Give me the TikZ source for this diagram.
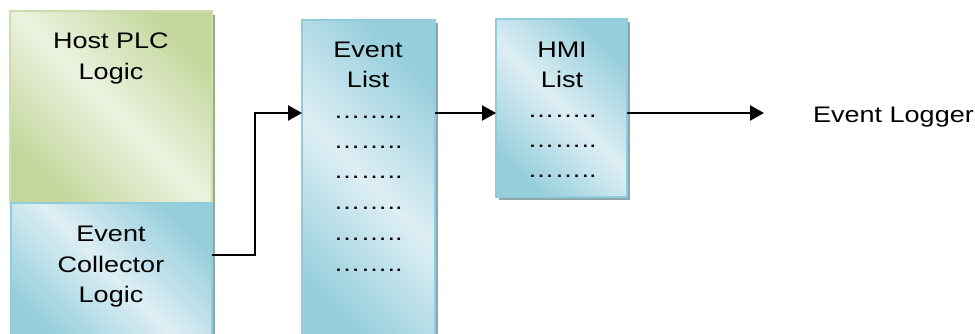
\documentclass[tikz,border=0pt]{standalone}
\usepackage{fontspec}
\setmainfont{Liberation Sans}
\usetikzlibrary{arrows.meta}
\definecolor{bdark}{HTML}{96CEDC}
\definecolor{blight}{HTML}{DDEEF4}
\definecolor{bborder}{HTML}{90CCDA}
\definecolor{bshadow}{HTML}{8EA7AF}
\definecolor{gdark}{HTML}{C4D69C}
\definecolor{glight}{HTML}{EBF2DF}
\definecolor{gborder}{HTML}{CCDDAE}
\definecolor{gshadow}{HTML}{9BAC88}
\newcommand{\sx}[1]{\scalebox{1.2}[1]{#1}}
\tikzset{
  bluebox/.style={draw=bborder, line width=1.6pt, shading=axis, top color=bdark, bottom color=bdark, middle color=blight, shading angle=-45},
  greenbox/.style={draw=gborder, line width=1.6pt, shading=axis, top color=gdark, bottom color=gdark, middle color=glight, shading angle=-45},
  shadowb/.style={fill=bshadow, draw=none},
  shadowg/.style={fill=gshadow, draw=none},
  lbl/.style={inner sep=0pt, anchor=base, font=\fontsize{22.5}{30}\selectfont},
  dots/.style={inner sep=0pt, font=\fontsize{22.5}{30}\selectfont},
  conn/.style={line width=2.4pt, -{Triangle[length=14pt,width=15pt]}},
}
\begin{document}
\begin{tikzpicture}[x=1pt,y=-1pt]
\useasboundingbox (0,0) rectangle (975,333);
% shadows
\fill[shadowg] (15,15) rectangle (215,206);
\fill[shadowb] (15,206) rectangle (215,340);
\fill[shadowb] (305,23) rectangle (438,340);
\fill[shadowb] (499,22) rectangle (630,200);
% boxes
\path[greenbox] (10,11) rectangle (212,203);
\path[bluebox] (11,203) rectangle (212,345);
\node[inner sep=0pt] (collE) at (212,255) {};
\path[bluebox] (302,20) rectangle (435,345);
\node[inner sep=0pt] (elW) at (302,113) {};
\node[inner sep=0pt] (elE) at (435,113) {};
\path[bluebox] (496,19) rectangle (627,197);
\node[inner sep=0pt] (hmiW) at (496,113) {};
\node[inner sep=0pt] (hmiE) at (627,113) {};
% texts
\node[lbl] (t1) at (111,48) {\sx{Host PLC}};
\node[lbl] (t2) at (111,79) {\sx{Logic}};
\node[lbl] (t3) at (111,241) {\sx{Event}};
\node[lbl] (t4) at (111,272) {\sx{Collector}};
\node[lbl] (t5) at (111,302) {\sx{Logic}};
\node[lbl] (t6) at (368,57) {\sx{Event}};
\node[lbl] (t7) at (368,87) {\sx{List}};
\node[lbl] (t8) at (562,57) {\sx{HMI}};
\node[lbl] (t9) at (562,87) {\sx{List}};
\foreach \y [count=\i] in {117,147,177,208,239,270}
  \node[dots] (ed\i) at (368,\y) {\sx{……..}};
\foreach \y [count=\i] in {116,146,176}
  \node[dots] (hd\i) at (562,\y) {\sx{……..}};
\node[lbl, anchor=base west] (logger) at (813,122) {\sx{Event Logger}};
\coordinate (lg) at (764,113);
\coordinate (bend1) at (255,255);
\coordinate (bend2) at (255,113);
% connectors
\draw[conn] (collE.center) -- (bend1) -- (bend2) -- (elW.center);
\draw[conn] (elE.center) -- (hmiW.center);
\draw[conn] (hmiE.center) -- (lg);
\end{tikzpicture}
\end{document}
